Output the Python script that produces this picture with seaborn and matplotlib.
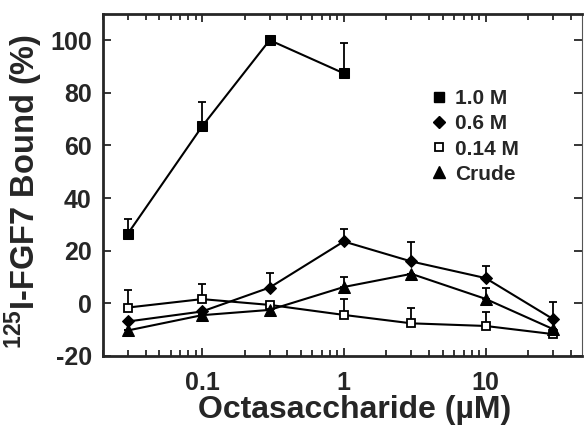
import numpy as np
import seaborn as sns
import matplotlib
matplotlib.use("Agg")
import matplotlib.pyplot as plt
from matplotlib.lines import Line2D
from matplotlib.ticker import LogLocator, NullFormatter, FixedLocator

# concentrations (uM)
conc = [0.03, 0.1, 0.3, 1, 3, 10, 30]
conc_1m = [0.03, 0.1, 0.3, 1]

# % bound
bound_1m = [26.5, 67.2, 100.0, 87.4]
err_1m = [5.7, 9.2, 0.0, 11.5]

bound_06m = [-6.9, -3.1, 6.0, 23.5, 15.9, 9.6, -6.0]
err_06m = [0.0, 0.0, 5.7, 4.8, 7.4, 4.4, 6.4]

bound_014m = [-1.6, 1.6, -0.6, -4.4, -7.6, -8.6, -11.7]
err_014m = [6.5, 5.7, 0.0, 6.1, 6.0, 5.2, 0.0]

bound_crude = [-10.3, -4.5, -2.5, 6.2, 11.2, 1.7, -9.8]
err_crude = [0.0, 0.0, 0.0, 3.8, 0.0, 4.3, 0.0]

labels = ["1.0 M", "0.6 M", "0.14 M", "Crude"]

sns.set_style("ticks")
plt.rcParams["font.family"] = ["Liberation Sans", "DejaVu Sans"]
plt.rcParams["font.weight"] = "bold"
plt.rcParams["axes.unicode_minus"] = False
plt.rcParams["mathtext.fontset"] = "custom"
plt.rcParams["mathtext.rm"] = "Liberation Sans:bold"
plt.rcParams["mathtext.bf"] = "Liberation Sans:bold"

fig = plt.figure(figsize=(5.85, 4.32), dpi=100)
ax = fig.add_axes([0.176, 0.176, 0.819, 0.792])

series = [
    (conc_1m, bound_1m, err_1m, dict(marker="s", ms=7, mfc="black")),
    (conc, bound_06m, err_06m, dict(marker="D", ms=6.5, mfc="black")),
    (conc, bound_014m, err_014m, dict(marker="s", ms=6, mfc="white", mew=1.3)),
    (conc, bound_crude, err_crude, dict(marker="^", ms=8, mfc="black")),
]

for x, y, e, st in series:
    yerr = [np.zeros(len(e)), np.array(e)]
    ax.errorbar(x, y, yerr=yerr, fmt="none", ecolor="black", elinewidth=1.3,
                capsize=3, capthick=1.3, zorder=2)
    sns.lineplot(x=x, y=y, ax=ax, color="black", linewidth=1.5, mec="black",
                 zorder=3, **st)

ax.set_xscale("log")
ax.set_xlim(0.02, 48)
ax.set_ylim(-20, 110)
ax.xaxis.set_major_locator(FixedLocator([0.1, 1, 10]))
ax.set_xticklabels(["0.1", "1", "10"])
ax.xaxis.set_minor_locator(LogLocator(base=10, subs=np.arange(2, 10)))
ax.xaxis.set_minor_formatter(NullFormatter())
ax.set_yticks([-20, 0, 20, 40, 60, 80, 100])

ax.tick_params(which="both", direction="in", top=True, right=True,
               width=1.3, labelsize=18)
ax.tick_params(which="major", length=6, pad=8)
ax.tick_params(axis="x", which="major", pad=11)
ax.tick_params(which="minor", length=4)
for lab in ax.get_xticklabels() + ax.get_yticklabels():
    lab.set_fontweight("bold")

for side in ["left", "bottom", "top"]:
    ax.spines[side].set_linewidth(2)
ax.spines["right"].set_linewidth(0.8)
ax.spines["right"].set_color("#555555")

ax.set_xlabel("Octasaccharide (\u00b5M)", fontsize=23, fontweight="bold")
ax.set_ylabel(r"$^{\mathbf{125}}$I-FGF7 Bound (%)", fontsize=23.5,
              fontweight="bold")
ax.xaxis.set_label_coords(0.526, -0.115)
ax.yaxis.set_label_coords(-0.121, 0.48)

handles = [Line2D([], [], linestyle="none", color="black", mec="black", **st)
           for _, _, _, st in series]
ax.legend(handles, labels, loc="upper left", bbox_to_anchor=(0.644, 0.835),
          frameon=False, prop=dict(size=15, weight="bold"),
          handlelength=0.8, handletextpad=0.4, labelspacing=0.3)

fig.savefig("out.png", dpi=100)
